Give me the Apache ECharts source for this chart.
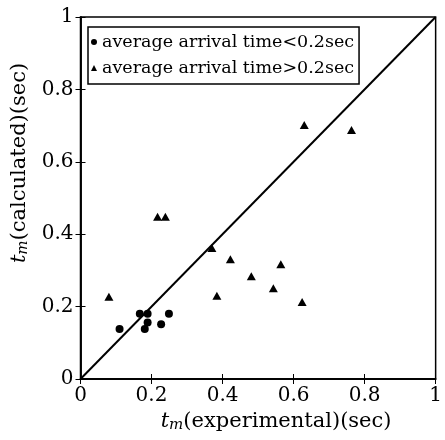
<!DOCTYPE html>
<html>
<head>
<meta charset="utf-8">
<script src="https://cdn.jsdelivr.net/npm/echarts@6/dist/echarts.min.js"></script>
<style>
html,body{margin:0;padding:0;background:#fff;}
#c{width:445px;height:440px;}
</style>
</head>
<body>
<div id="c"></div>
<script>
// data
const lowNameStr = 'average arrival time<0.2sec';
const highNameStr = 'average arrival time>0.2sec';
const lowX = [0.110, 0.167, 0.189, 0.189, 0.181, 0.227, 0.249];
const lowY = [0.138, 0.180, 0.180, 0.156, 0.138, 0.151, 0.180];
const highX = [0.080, 0.217, 0.239, 0.370, 0.384, 0.422, 0.481, 0.543, 0.564, 0.624, 0.630, 0.763];
const highY = [0.227, 0.448, 0.448, 0.362, 0.230, 0.331, 0.284, 0.251, 0.317, 0.213, 0.702, 0.688];
const diagX = [0, 1];
const diagY = [0, 1];
const tickLabels = ['0', '0.2', '0.4', '0.6', '0.8', '1'];

const pair = (xs, ys) => xs.map((x, i) => [x, ys[i]]);
const FONT = 'DejaVu Serif';
const labelFmt = v => { const i = Math.round(v / 0.2); return tickLabels[i] !== undefined ? tickLabels[i] : ''; };

const nameRich = {
  i: { fontFamily: FONT, fontStyle: 'italic', fontSize: 21, color: '#000' },
  s: { fontFamily: FONT, fontStyle: 'italic', fontSize: 15, color: '#000', padding: [8, 0, 0, 0] },
  n: { fontFamily: FONT, fontSize: 21, color: '#000' }
};

const chart = echarts.init(document.getElementById('c'));
chart.setOption({
  animation: false,
  backgroundColor: '#fff',
  grid: { left: 80.5, right: 5, top: 17, bottom: 61, show: true, borderColor: '#000', borderWidth: 1.5, backgroundColor: 'transparent' },
  legend: {
    orient: 'vertical', left: 88, top: 27,
    data: [{ name: lowNameStr, icon: 'circle' }, { name: highNameStr, icon: 'triangle' }],
    itemWidth: 6, itemHeight: 6, itemGap: 8,
    padding: [6, 5, 7, 3],
    borderColor: '#000', borderWidth: 1.5, backgroundColor: '#fff',
    textStyle: { fontFamily: FONT, fontSize: 17.5, color: '#000' }
  },
  xAxis: [{
    type: 'value', min: 0, max: 1, interval: 0.2, position: 'bottom',
    axisLine: { show: true, lineStyle: { color: '#000', width: 1.5 } },
    axisTick: { show: true, inside: true, length: 5, lineStyle: { color: '#000', width: 1 } },
    axisLabel: { formatter: labelFmt, fontFamily: FONT, fontSize: 20, color: '#000', margin: 7 },
    splitLine: { show: false },
    name: '{i|t}{s|m}{n|(experimental)(sec)}', nameLocation: 'middle', nameGap: 31,
    nameTextStyle: { rich: nameRich, padding: [0, 0, 0, 36] }
  }, {
    type: 'value', min: 0, max: 1, interval: 0.2, position: 'top',
    axisLine: { show: true, lineStyle: { color: '#000', width: 1.5 } },
    axisTick: { show: true, inside: true, length: 5, lineStyle: { color: '#000', width: 1 } },
    axisLabel: { show: false }, splitLine: { show: false }
  }],
  yAxis: [{
    type: 'value', min: 0, max: 1, interval: 0.2, position: 'left',
    axisLine: { show: true, lineStyle: { color: '#000', width: 1.5 } },
    axisTick: { show: true, inside: true, length: 5, lineStyle: { color: '#000', width: 1 } },
    axisLabel: { formatter: labelFmt, fontFamily: FONT, fontSize: 20, color: '#000', margin: 7 },
    splitLine: { show: false },
    name: '{i|t}{s|m}{n|(calculated)(sec)}', nameLocation: 'middle', nameGap: 47,
    nameTextStyle: { rich: nameRich, padding: [0, 0, 0, 70] }
  }, {
    type: 'value', min: 0, max: 1, interval: 0.2, position: 'right',
    axisLine: { show: true, lineStyle: { color: '#000', width: 1.5 } },
    axisTick: { show: true, inside: true, length: 5, lineStyle: { color: '#000', width: 1 } },
    axisLabel: { show: false }, splitLine: { show: false }
  }],
  series: [{
    type: 'line', data: pair(diagX, diagY), symbol: 'none', silent: true,
    lineStyle: { color: '#000', width: 2 }, z: 1
  }, {
    name: lowNameStr, type: 'scatter', data: pair(lowX, lowY), symbol: 'circle', symbolSize: 8,
    itemStyle: { color: '#000', opacity: 1 }, z: 3
  }, {
    name: highNameStr, type: 'scatter', data: pair(highX, highY), symbol: 'triangle', symbolSize: [9, 8],
    itemStyle: { color: '#000', opacity: 1 }, z: 3
  }]
});
</script>
</body>
</html>
